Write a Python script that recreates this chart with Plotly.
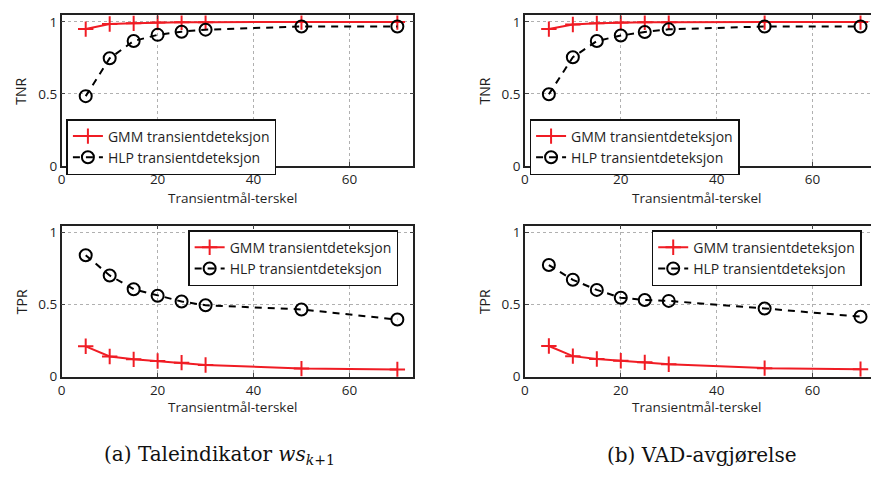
import plotly.graph_objects as go

# Thresholds on the transient measure
terskel = [5, 10, 15, 20, 25, 30, 50, 70]

# (a) Taleindikator ws_{k+1}
tnr_gmm_a = [0.950, 0.985, 0.990, 0.995, 0.997, 0.998, 0.999, 0.999]
tnr_hlp_a = [0.485, 0.748, 0.867, 0.910, 0.932, 0.946, 0.968, 0.968]
tpr_gmm_a = [0.210, 0.140, 0.120, 0.108, 0.097, 0.081, 0.056, 0.050]
tpr_hlp_a = [0.840, 0.700, 0.605, 0.560, 0.520, 0.494, 0.465, 0.395]

# (b) VAD-avgjørelse
tnr_gmm_b = [0.950, 0.982, 0.990, 0.995, 0.997, 0.998, 0.999, 0.999]
tnr_hlp_b = [0.498, 0.755, 0.867, 0.905, 0.930, 0.948, 0.968, 0.968]
tpr_gmm_b = [0.212, 0.142, 0.122, 0.110, 0.099, 0.086, 0.059, 0.052]
tpr_hlp_b = [0.772, 0.670, 0.600, 0.546, 0.530, 0.524, 0.472, 0.415]

name_gmm = "GMM transientdeteksjon"
name_hlp = "HLP transientdeteksjon"
x_title = "Transientmål-terskel"
captions = ["(a) Taleindikator <i>ws</i><sub><i>k</i>+1</sub>", "(b) VAD-avgjørelse"]

W, H = 871, 478
RED = "#f01c24"
FONT = "Open Sans"
TXT = "#1f1f1f"

fig = go.Figure()

panels = [
    # (xaxis, yaxis, gmm, hlp, legend)
    ("x", "y", tnr_gmm_a, tnr_hlp_a, "legend"),
    ("x2", "y2", tpr_gmm_a, tpr_hlp_a, "legend2"),
    ("x3", "y3", tnr_gmm_b, tnr_hlp_b, "legend3"),
    ("x4", "y4", tpr_gmm_b, tpr_hlp_b, "legend4"),
]

for xa, ya, gmm, hlp, leg in panels:
    fig.add_trace(go.Scatter(
        x=terskel, y=gmm, name=name_gmm, xaxis=xa, yaxis=ya, legend=leg,
        mode="lines+markers",
        line=dict(color=RED, width=2),
        marker=dict(symbol="cross-thin-open", size=11, line=dict(color=RED, width=2)),
    ))
    fig.add_trace(go.Scatter(
        x=terskel, y=hlp, name=name_hlp, xaxis=xa, yaxis=ya, legend=leg,
        mode="lines+markers",
        line=dict(color="black", width=2, dash="7px,6px"),
        marker=dict(symbol="circle-open", size=12, line=dict(color="black", width=2)),
    ))

# Panel geometry (pixels)
left_x = (58, 411.3)
right_x = (523.3, 871)
top_y = (12.7, 167.3)
bot_y = (228.3, 383.3)
px_per_unit = (411.3 - 58) / 73.35


def xdom(p):
    return [p[0] / W, min(p[1] / W, 1.0)]


def ydom(p):
    return [1 - p[1] / H, 1 - p[0] / H]


def xaxis(p, anchor):
    return dict(
        domain=xdom(p), anchor=anchor,
        range=[0, (p[1] - p[0]) / px_per_unit],
        tickvals=[0, 20, 40, 60], ticks="inside", ticklen=4,
        showline=True, linecolor="#222", linewidth=1.5, mirror="ticks",
        showgrid=True, gridcolor="#b0b0b0", griddash="dot", gridwidth=1,
        zeroline=False, tickfont=dict(family=FONT, size=13.5, color=TXT),
    )


def yaxis(p, anchor, mirror):
    return dict(
        domain=ydom(p), anchor=anchor,
        range=[0, 1.045],
        tickvals=[0, 0.5, 1], ticktext=["0", "0.5", "1"],
        ticks="inside", ticklen=4,
        showline=True, linecolor="#222", linewidth=1.5, mirror=mirror,
        showgrid=True, gridcolor="#b0b0b0", griddash="dot", gridwidth=1,
        zeroline=False, tickfont=dict(family=FONT, size=13.5, color=TXT),
    )


legend_style = dict(
    bgcolor="white", bordercolor="#111", borderwidth=1.5,
    font=dict(family=FONT, size=14, color=TXT),
    xanchor="left", yanchor="top", tracegroupgap=0,
)

fig.update_layout(
    width=W, height=H,
    margin=dict(l=0, r=0, t=0, b=0),
    paper_bgcolor="white", plot_bgcolor="white",
    showlegend=True,
    xaxis=xaxis(left_x, "y"), yaxis=yaxis(top_y, "x", "ticks"),
    xaxis2=xaxis(left_x, "y2"), yaxis2=yaxis(bot_y, "x2", "ticks"),
    xaxis3=xaxis(right_x, "y3"), yaxis3=yaxis(top_y, "x3", False),
    xaxis4=xaxis(right_x, "y4"), yaxis4=yaxis(bot_y, "x4", False),
    legend=dict(x=62.7 / W, y=1 - 119 / H, **legend_style),
    legend2=dict(x=185 / W, y=1 - 233 / H, **legend_style),
    legend3=dict(x=528 / W, y=1 - 119 / H, **legend_style),
    legend4=dict(x=650.7 / W, y=1 - 233 / H, **legend_style),
)

ann = []
# Axis titles
xtitle_pos = [(230, 200), (230, 414), (696, 200), (696, 414)]
for (cx, cy) in xtitle_pos:
    ann.append(dict(x=cx / W, y=1 - cy / H, xref="paper", yref="paper",
                    xanchor="center", yanchor="middle",
                    text=x_title, showarrow=False,
                    font=dict(family=FONT, size=13.5, color=TXT)))
ytitle_pos = [(17, 90, "TNR"), (17, 306, "TPR"), (483, 90, "TNR"), (483, 306, "TPR")]
for (cx, cy, t) in ytitle_pos:
    ann.append(dict(x=cx / W, y=1 - cy / H, xref="paper", yref="paper",
                    xanchor="center", yanchor="middle",
                    text=t, textangle=-90, showarrow=False,
                    font=dict(family=FONT, size=14, color=TXT)))
# Sub-figure captions
for (cx, t) in ((216, captions[0]), (701, captions[1])):
    ann.append(dict(x=cx / W, y=1 - 464 / H, xref="paper", yref="paper",
                    xanchor="center", yanchor="middle",
                    text=t, showarrow=False,
                    font=dict(family="DejaVu Serif", size=20, color="#111")))
fig.update_layout(annotations=ann)

fig.write_html("out.html")
